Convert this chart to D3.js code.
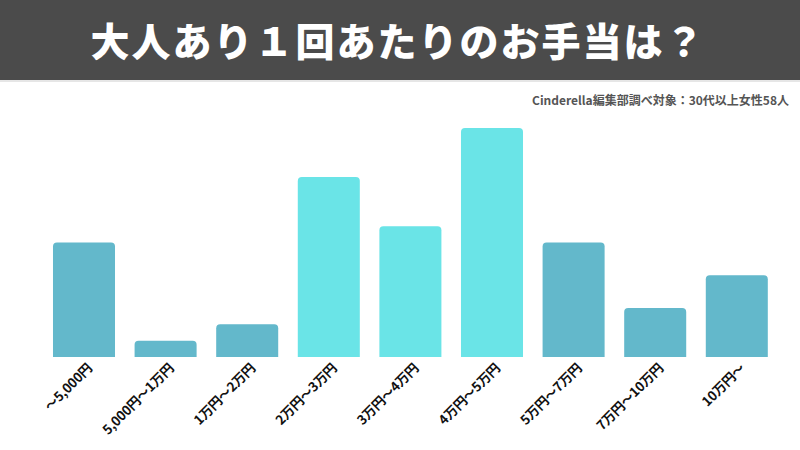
<!DOCTYPE html>
<html><head><meta charset="utf-8">
<script src="https://cdn.jsdelivr.net/npm/d3@7"></script>
<style>body{margin:0;background:#fff}svg{display:block}</style>
</head><body>
<svg id="c" width="800" height="450"></svg>
<script>
const categories = ["〜5,000円","5,000円〜1万円","1万円〜2万円","2万円〜3万円","3万円〜4万円","4万円〜5万円","5万円〜7万円","7万円〜10万円","10万円〜"];
const counts = [7,1,2,11,8,14,7,3,5];
const highlight = [false,false,false,true,true,true,false,false,false];
const title = "大人あり１回あたりのお手当は？";
const note = "Cinderella編集部調べ対象：30代以上女性58人";

const svg = d3.select("#c");
const font = "'Noto Sans CJK JP','Noto Sans',sans-serif";
svg.append("rect").attr("x",0).attr("y",0).attr("width",800).attr("height",80).attr("fill","#4b4b4b");
svg.append("rect").attr("x",0).attr("y",80).attr("width",800).attr("height",2).attr("fill","#e6e6e6");
svg.append("text").attr("x",398).attr("y",56).attr("text-anchor","middle")
  .attr("font-family",font).attr("font-weight",900).attr("font-size",39)
  .attr("letter-spacing",2).attr("fill","#fff").text(title);
svg.append("text").attr("x",789).attr("y",105).attr("text-anchor","end")
  .attr("font-family",font).attr("font-weight",700).attr("font-size",12)
  .attr("fill","#555").text(note);

const x = d3.scaleBand().domain(categories).range([43.2,777.6]).paddingInner(0.24).paddingOuter(0.12);
const y = d3.scaleLinear().domain([0,14]).range([357,128]);
const r = 4;
const g = svg.append("g");
g.selectAll("path").data(categories).join("path")
  .attr("fill",(d,i)=>highlight[i]?"#6ae4e7":"#63b8cb")
  .attr("d",(d,i)=>{
    const x0=x(d), w=x.bandwidth(), y0=y(counts[i]), y1=y(0);
    return `M${x0},${y1}V${y0+r}Q${x0},${y0} ${x0+r},${y0}H${x0+w-r}Q${x0+w},${y0} ${x0+w},${y0+r}V${y1}Z`;
  });

const ax = svg.append("g").attr("transform","translate(0,357)").call(d3.axisBottom(x).tickSize(0).tickPadding(0));
ax.select(".domain").remove();
ax.selectAll("text").attr("font-family",font).attr("font-weight",700).attr("font-size",13.2).attr("fill","#111")
  .attr("text-anchor","end").attr("dy",0).attr("y",0).attr("letter-spacing",-0.2)
  .attr("transform","translate(9,12) rotate(-45)");
</script>
</body></html>
